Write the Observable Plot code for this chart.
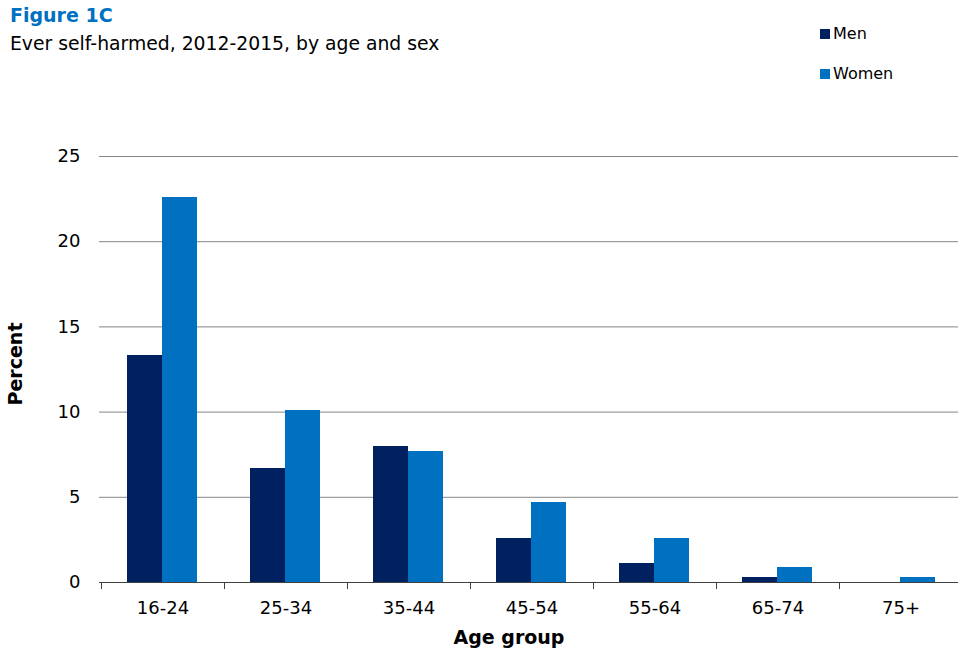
<!DOCTYPE html>
<html><head><meta charset="utf-8">
<script src="https://cdn.jsdelivr.net/npm/d3@7"></script>
<script src="https://cdn.jsdelivr.net/npm/@observablehq/plot@0.6"></script>
<style>
body{margin:0;overflow:hidden;background:#fff;font-family:"DejaVu Sans",Verdana,sans-serif;color:#000;}
#wrap{position:relative;width:958px;height:649px;overflow:hidden;}
#chart{position:absolute;left:0;top:0;width:964px;}
.abs{position:absolute;white-space:nowrap;}
#title{left:10px;top:4px;font-weight:bold;color:#0070C0;font-size:19px;}
#sub{left:10px;top:33px;font-size:18.8px;}
.leg{left:820px;font-size:16px;display:flex;align-items:center;}
.leg span.sw{display:inline-block;width:10px;height:10px;margin-right:3px;}
#xlabel{top:626px;left:509px;transform:translateX(-50%);font-weight:bold;font-size:19px;}
#ylabel{left:15px;top:364px;transform:translate(-50%,-50%) rotate(-90deg);font-weight:bold;font-size:19px;}
</style>
</head><body>
<div id="wrap">
  <div id="chart"></div>
  <div class="abs" id="title">Figure 1C</div>
  <div class="abs" id="sub">Ever self-harmed, 2012-2015, by age and sex</div>
  <div class="abs leg" id="legMen" style="top:24px"><span class="sw" style="background:#002060"></span>Men</div>
  <div class="abs leg" id="legWomen" style="top:64px"><span class="sw" style="background:#0070C0"></span>Women</div>
  <div class="abs" id="xlabel">Age group</div>
  <div class="abs" id="ylabel">Percent</div>
</div>
<script>
const ages = ["16-24","25-34","35-44","45-54","55-64","65-74","75+"];
const men = [13.3, 6.7, 8.0, 2.6, 1.1, 0.3, 0];
const women = [22.6, 10.1, 7.7, 4.7, 2.6, 0.9, 0.3];
const yTicks = [0, 5, 10, 15, 20, 25];
const seriesColors = {Men: "#002060", Women: "#0070C0"};

const data = [];
ages.forEach((a, i) => {
  data.push({age: a, sex: "Men", value: men[i]});
  data.push({age: a, sex: "Women", value: women[i]});
});

const plot = Plot.plot({
  width: 964,
  height: 649,
  marginTop: 156,
  marginBottom: 67,
  marginLeft: 99,
  marginRight: 0,
  style: {fontFamily: "DejaVu Sans, Verdana, sans-serif", fontSize: "18px", color: "#000", background: "transparent", overflow: "visible", maxWidth: "none"},
  x: {domain: ages, padding: 0, tickSize: 0, tickPadding: 19, label: null},
  y: {domain: [0, 25], ticks: yTicks, tickSize: 0, tickPadding: 19, label: null},
  marks: [
    Plot.ruleY(yTicks.filter(d => d > 0), {stroke: "#868686", strokeWidth: 1}),
    Plot.barY(data.filter(d => d.sex === "Women"), {x: "age", y: "value", fill: seriesColors.Women, insetLeft: 61, insetRight: 27, shapeRendering: "crispEdges"}),
    Plot.barY(data.filter(d => d.sex === "Men"), {x: "age", y: "value", fill: seriesColors.Men, insetLeft: 26, insetRight: 62, shapeRendering: "crispEdges"}),
    Plot.ruleY([0], {stroke: "#404040", strokeWidth: 1})
  ]
});
plot.style.maxWidth = "none";
document.getElementById("chart").appendChild(plot);

// tick marks at category boundaries, from the library's own scales
const sx = plot.scale("x"), sy = plot.scale("y");
const y0 = sy.apply(0);
const g = d3.select(plot).append("g").attr("stroke", "#404040");
ages.forEach(a => {
  const x = Math.round(sx.apply(a)) + 0.5;
  g.append("line").attr("x1", x).attr("x2", x).attr("y1", y0).attr("y2", y0 + 7);
});
</script>
</body></html>
